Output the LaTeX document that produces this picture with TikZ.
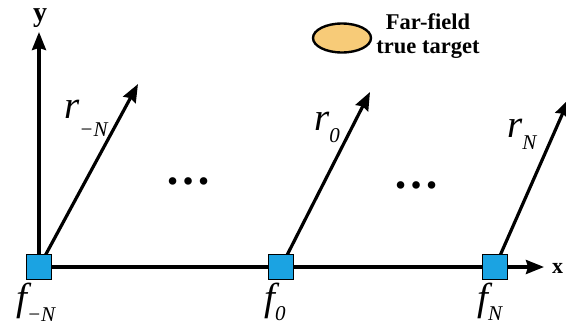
\documentclass[tikz,border=0pt]{standalone}
\usepackage{fontspec}
\setmainfont{Liberation Serif}
\usetikzlibrary{arrows.meta,backgrounds,shapes.geometric}
\definecolor{sqblue}{RGB}{27,163,226}
\definecolor{ellorange}{RGB}{247,203,120}
\newcommand{\symlab}[3]{{\fontsize{39}{39}\selectfont\itshape #1}\raisebox{-#3}{\fontsize{21}{21}\selectfont\itshape #2}}
\tikzset{
  elem/.style={draw=black, line width=1.8pt, fill=sqblue, minimum size=25pt, inner sep=0pt},
  axisline/.style={line width=3.2pt, -{Stealth[length=18pt,width=14pt,inset=2pt]}},
  vecline/.style={line width=3.2pt, -{Stealth[length=18pt,width=14pt,inset=2pt]}},
  symlabel/.style={inner sep=0pt, anchor=base west},
  boldlabel/.style={inner sep=0pt, font=\fontsize{28}{28}\selectfont\bfseries},
  dots/.style={inner sep=0pt, font=\fontsize{46}{46}\selectfont\bfseries},
}
\begin{document}
\begin{tikzpicture}[x=1pt,y=-1pt]
\useasboundingbox (0,0) rectangle (566,325);
% elements
\node[elem] (s1) at (39,267) {};
\node[elem] (s2) at (281,267) {};
\node[elem] (s3) at (495,267) {};
\coordinate (ytip) at (39,32);
\coordinate (xtip) at (544,267);
\coordinate (t1) at (138,84);
\coordinate (t2) at (370,92);
\coordinate (t3) at (569,99);
\begin{scope}[on background layer]
\draw[axisline] (s1.center) -- (ytip);
\draw[axisline] (s1.center) -- (xtip);
\draw[vecline] (s1.center) -- (t1);
\draw[vecline] (s2.center) -- (t2);
\draw[vecline] (s3.center) -- (t3);
\end{scope}
% axis labels
\node[boldlabel, anchor=base] (ylab) at (40,21) {y};
\node[boldlabel, anchor=base west, font=\fontsize{22}{22}\selectfont\bfseries] (xlab) at (552,273) {x};
% vector labels
\node[symlabel] (rmN) at (64,118) {\symlab{r}{−N}{18pt}};
\node[symlabel] (r0) at (314,130) {\symlab{r}{0}{12pt}};
\node[symlabel] (rN) at (507,137) {\symlab{r}{N}{12pt}};
% frequency labels
\node[symlabel] (fmN) at (16,310) {\symlab{f}{−N}{11pt}};
\node[symlabel] (f0) at (264,310) {\symlab{f}{0}{10pt}};
\node[symlabel] (fN) at (477,310) {\symlab{f}{N}{10pt}};
% dots
\node[dots] (d1) at (188,181) {…};
\node[dots] (d2) at (416,185) {…};
% legend
\node[draw=black, line width=2.4pt, fill=ellorange, ellipse, minimum width=58pt, minimum height=29pt, inner sep=0pt] (leg) at (342,38) {};
\node[inner sep=0pt, align=center, font=\fontsize{22.5}{24}\selectfont\bfseries] (legtext) at (428,36) {Far-field\\true target};
\end{tikzpicture}
\end{document}
